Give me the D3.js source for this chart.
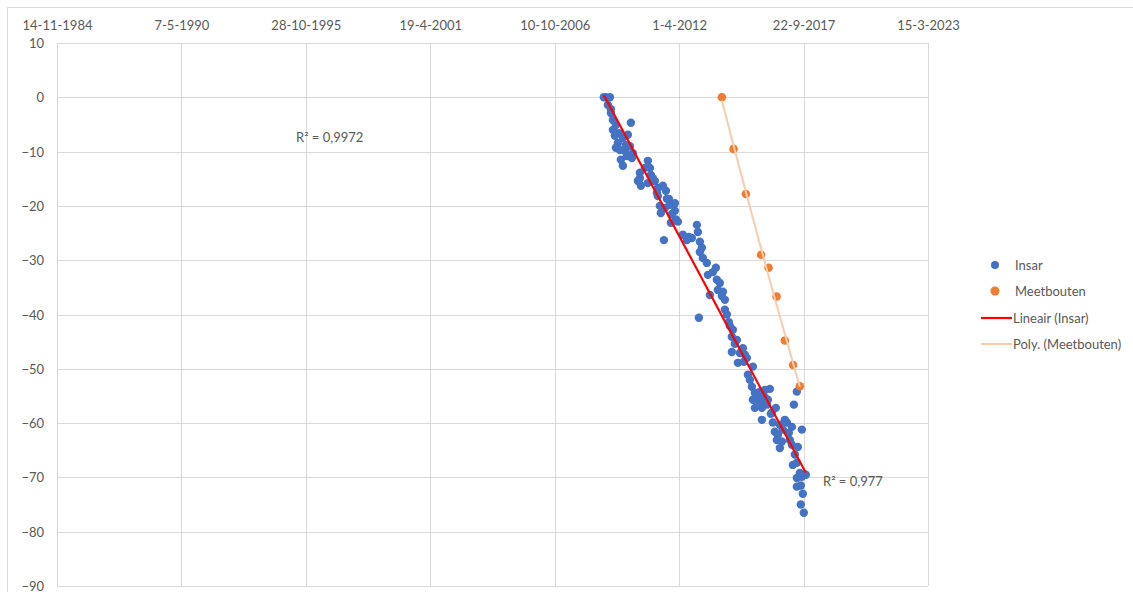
<!DOCTYPE html>
<html>
<head>
<meta charset="utf-8">
<script src="https://cdn.jsdelivr.net/npm/d3@7"></script>
<style>
  body { margin: 0; background: #fff; }
  svg { display: block; font-family: Lato, "Open Sans", sans-serif; }
</style>
</head>
<body>
<svg id="chart" width="1133" height="592"></svg>
<script>
// dates are Excel serial numbers (days since 30-12-1899)
const xTicks = [31000, 33000, 35000, 37000, 39000, 41000, 43000, 45000];
const yTicks = [10, 0, -10, -20, -30, -40, -50, -60, -70, -80, -90];

const insarDates = [39822, 39887, 39903, 39935, 39983, 39935, 40224, 40096, 40176, 40015,
  39983, 40128, 40256, 40096, 40497, 40530, 40369, 40337, 40385, 40546,
  40610, 40658, 40738, 40787, 40658, 40690, 40771, 40851, 40931, 40706,
  40931, 40867, 40948, 40755, 39855, 40031, 40144, 40208, 40449, 40578,
  40803, 40980, 40063, 41060, 41125, 41204, 41285, 41301, 41333, 41365,
  41381, 41445, 41590, 41462, 41606, 41654, 41622, 41703, 41494, 41735,
  41317, 41735, 41767, 41799, 41863, 41847, 41928, 42024, 41847, 41976,
  42088, 41944, 42185, 42105, 42137, 42169, 42217, 42297, 42378, 42458,
  42217, 42297, 42378, 42410, 42217, 42490, 42892, 42844, 42506, 42619,
  42731, 42812, 42972, 42265, 42346, 42185, 42554, 42474, 42538, 42586,
  42667, 42763, 42570, 42651, 42619, 42812, 42908, 42860, 42828, 42892,
  42940, 43020, 42892, 42972, 42892, 42956, 42988, 42956, 43004, 43036,
  41542, 41687, 41815, 41895, 42056, 41333, 41156, 42699, 42426, 42330,
  40047, 40160, 40240, 39967, 40369, 40497, 40642, 40835, 40883, 39903,
  39790, 42330, 42779, 42040];
const insarValues = [0, 0, -2.9, -4.2, -5.1, -6.0, -4.7, -7.5, -6.9, -8.4,
  -9.3, -9.9, -10.3, -12.6, -11.7, -13.0, -13.9, -15.4, -16.3, -14.3,
  -15.4, -16.7, -16.3, -17.2, -18.2, -20.0, -20.4, -19.8, -19.5, -21.3,
  -20.9, -23.1, -22.5, -26.3, -1.4, -6.6, -8.8, -9.0, -13.0, -14.9,
  -18.7, -22.9, -11.5, -25.3, -26.3, -25.9, -23.5, -24.8, -26.6, -27.7,
  -29.6, -30.5, -31.4, -32.7, -33.6, -34.2, -35.5, -35.8, -36.4, -37.3,
  -40.6, -39.1, -40.0, -41.4, -42.8, -44.1, -44.7, -46.2, -46.9, -47.1,
  -48.0, -48.9, -49.6, -51.1, -52.0, -53.3, -54.4, -54.2, -53.9, -53.7,
  -55.7, -56.1, -55.3, -56.6, -57.2, -58.1, -54.2, -56.6, -59.9, -60.3,
  -59.9, -60.7, -61.2, -54.8, -54.6, -55.7, -57.2, -58.3, -61.6, -62.2,
  -61.2, -61.8, -63.1, -63.4, -64.6, -64.0, -64.4, -65.8, -67.7, -67.3,
  -69.2, -69.5, -70.1, -69.9, -71.7, -71.5, -73.0, -75.0, -76.5, -69.5,
  -32.2, -36.6, -42.1, -45.4, -47.4, -28.5, -25.7, -59.4, -55.7, -57.2,
  -9.7, -10.8, -11.2, -7.1, -14.9, -15.8, -17.6, -18.7, -21.5, -2.2,
  0, -59.4, -63.1, -48.7];

const meetDates = [41687, 41875, 42072, 42318, 42437, 42566, 42699, 42832, 42940];
const meetValues = [0, -9.5, -17.8, -29.0, -31.4, -36.7, -44.8, -49.3, -53.2];

const legendLabels = ["Insar", "Meetbouten", "Lineair (Insar)", "Poly. (Meetbouten)"];
const r2Labels = ["R² = 0,9972", "R² = 0,977"];

const serialToDate = s => new Date(Date.UTC(1899, 11, 30) + s * 864e5);

const blue = "#4472c4", orange = "#ed7d31", red = "#ff0000", paleOrange = "#f8cbad";
const grid = "#d9d9d9", textCol = "#595959";

const plotLeft = 57, plotRight = 928, plotTop = 43, plotBottom = 586;

const svg = d3.select("#chart");

// outer chart border
svg.append("rect")
  .attr("x", 7.5).attr("y", 7.5)
  .attr("width", 1140).attr("height", 600)
  .attr("fill", "none").attr("stroke", grid);

const x = d3.scaleUtc()
  .domain([serialToDate(31000), serialToDate(45000)])
  .range([plotLeft, plotRight]);

const y = d3.scaleLinear()
  .domain([-90, 10])
  .range([plotBottom, plotTop]);

// gridlines
svg.append("g")
  .selectAll("line")
  .data(yTicks)
  .enter()
  .append("line")
  .attr("x1", plotLeft).attr("x2", plotRight)
  .attr("y1", d => Math.round(y(d)) + 0.5).attr("y2", d => Math.round(y(d)) + 0.5)
  .attr("stroke", grid);

svg.append("g")
  .selectAll("line")
  .data(xTicks)
  .enter()
  .append("line")
  .attr("x1", d => Math.round(x(serialToDate(d))) + 0.5)
  .attr("x2", d => Math.round(x(serialToDate(d))) + 0.5)
  .attr("y1", plotTop).attr("y2", plotBottom)
  .attr("stroke", grid);

// axes (labels only)
const fmt = d3.utcFormat("%-d-%-m-%Y");
const xAxis = svg.append("g")
  .attr("transform", "translate(0," + plotTop + ")")
  .call(d3.axisTop(x).tickValues(xTicks.map(serialToDate)).tickFormat(fmt).tickSize(0).tickPadding(13));

const yAxis = svg.append("g")
  .attr("transform", "translate(" + plotLeft + ",0)")
  .call(d3.axisLeft(y).tickValues(yTicks).tickFormat(d3.format("d")).tickSize(0).tickPadding(13));

[xAxis, yAxis].forEach(a => {
  a.select(".domain").remove();
  a.selectAll("text")
    .attr("fill", textCol)
    .style("font-size", "13px")
    .style("font-family", "Lato, 'Open Sans', sans-serif");
});
yAxis.selectAll("text").attr("dy", "0.35em");

// linear trend (Insar)
const lin = d3.zip(insarDates, insarValues);
const mx = d3.mean(insarDates), my = d3.mean(insarValues);
const slope = d3.sum(lin, d => (d[0] - mx) * (d[1] - my)) / d3.sum(lin, d => (d[0] - mx) ** 2);
const icpt = my - slope * mx;
const xMin = d3.min(insarDates), xMax = d3.max(insarDates);

// quadratic trend (Meetbouten)
function polyFit(xs, ys) {
  const x0 = d3.mean(xs);
  const u = xs.map(v => (v - x0) / 1000);
  const S = k => d3.sum(u, v => v ** k);
  const T = k => d3.sum(u, (v, i) => v ** k * ys[i]);
  const A = [[S(0), S(1), S(2)], [S(1), S(2), S(3)], [S(2), S(3), S(4)]];
  const b = [T(0), T(1), T(2)];
  // gaussian elimination
  for (let i = 0; i < 3; i++) {
    for (let j = i + 1; j < 3; j++) {
      const f = A[j][i] / A[i][i];
      for (let k = i; k < 3; k++) A[j][k] -= f * A[i][k];
      b[j] -= f * b[i];
    }
  }
  const c = [0, 0, 0];
  for (let i = 2; i >= 0; i--) {
    let s = b[i];
    for (let k = i + 1; k < 3; k++) s -= A[i][k] * c[k];
    c[i] = s / A[i][i];
  }
  return v => { const t = (v - x0) / 1000; return c[0] + c[1] * t + c[2] * t * t; };
}
const poly = polyFit(meetDates, meetValues);
const pMin = d3.min(meetDates), pMax = d3.max(meetDates);
const polyPts = d3.range(0, 41).map(i => {
  const s = pMin + (pMax - pMin) * i / 40;
  return [s, poly(s)];
});

const line = d3.line()
  .x(d => x(serialToDate(d[0])))
  .y(d => y(d[1]));

// markers
svg.append("g")
  .selectAll("circle")
  .data(lin)
  .enter()
  .append("circle")
  .attr("cx", d => x(serialToDate(d[0])))
  .attr("cy", d => y(d[1]))
  .attr("r", 4.2)
  .attr("fill", blue);

svg.append("g")
  .selectAll("circle")
  .data(d3.zip(meetDates, meetValues))
  .enter()
  .append("circle")
  .attr("cx", d => x(serialToDate(d[0])))
  .attr("cy", d => y(d[1]))
  .attr("r", 4.3)
  .attr("fill", orange);

svg.append("path")
  .datum([[xMin, icpt + slope * xMin], [xMax, icpt + slope * xMax]])
  .attr("d", line)
  .attr("fill", "none")
  .attr("stroke", red)
  .attr("stroke-width", 2.2);

svg.append("path")
  .datum(polyPts)
  .attr("d", line)
  .attr("fill", "none")
  .attr("stroke", paleOrange)
  .attr("stroke-width", 2);

// R² labels
svg.append("text")
  .attr("x", 296).attr("y", 142)
  .attr("fill", textCol).style("font-size", "13px")
  .text(r2Labels[0]);
svg.append("text")
  .attr("x", 823).attr("y", 486)
  .attr("fill", textCol).style("font-size", "13px")
  .text(r2Labels[1]);

// legend
const lg = svg.append("g");
const ly = [265, 291, 318, 344];
lg.append("circle").attr("cx", 995).attr("cy", ly[0]).attr("r", 4).attr("fill", blue);
lg.append("circle").attr("cx", 995).attr("cy", ly[1]).attr("r", 4.5).attr("fill", orange);
lg.append("line").attr("x1", 981).attr("x2", 1012).attr("y1", ly[2]).attr("y2", ly[2])
  .attr("stroke", red).attr("stroke-width", 2.2);
lg.append("line").attr("x1", 981).attr("x2", 1012).attr("y1", ly[3]).attr("y2", ly[3])
  .attr("stroke", paleOrange).attr("stroke-width", 2);
lg.selectAll("text")
  .data(legendLabels)
  .enter()
  .append("text")
  .attr("x", (d, i) => i < 2 ? 1015 : 1013)
  .attr("y", (d, i) => ly[i])
  .attr("dy", "0.35em")
  .attr("fill", textCol)
  .style("font-size", "13px")
  .text(d => d);
</script>
</body>
</html>
